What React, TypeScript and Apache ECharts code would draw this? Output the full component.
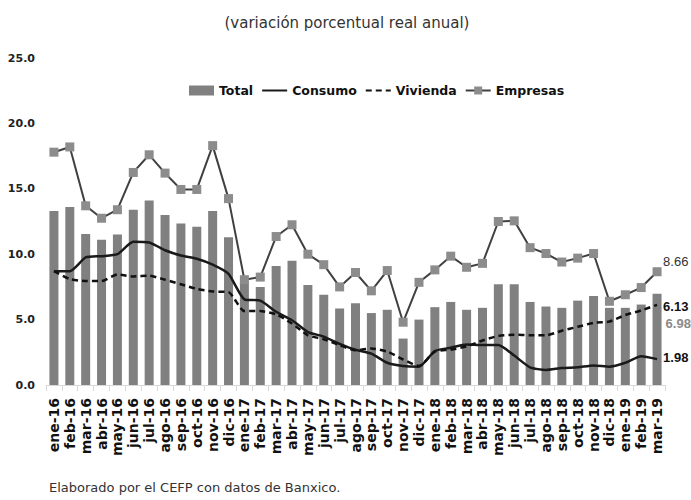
import React, { useEffect, useRef } from "react";
import * as echarts from "echarts";

const categories = [
  "ene-16","feb-16","mar-16","abr-16","may-16","jun-16","jul-16","ago-16","sep-16","oct-16","nov-16","dic-16",
  "ene-17","feb-17","mar-17","abr-17","may-17","jun-17","jul-17","ago-17","sep-17","oct-17","nov-17","dic-17",
  "ene-18","feb-18","mar-18","abr-18","may-18","jun-18","jul-18","ago-18","sep-18","oct-18","nov-18","dic-18",
  "ene-19","feb-19","mar-19",
];

const total = [
  13.3, 13.6, 11.55, 11.1, 11.5, 13.4, 14.1, 13.0, 12.35, 12.1, 13.3, 11.3,
  7.9, 7.5, 9.1, 9.5, 7.65, 6.9, 5.85, 6.25, 5.5, 5.75, 3.55, 5.0,
  5.95, 6.35, 5.75, 5.9, 7.7, 7.7, 6.35, 6.0, 5.9, 6.45, 6.8, 5.9,
  5.9, 6.15, 6.98,
];

const consumo = [
  8.7, 8.7, 9.75, 9.85, 10.0, 10.95, 10.9, 10.3, 9.9, 9.65, 9.2, 8.5,
  6.55, 6.45, 5.6, 4.95, 4.05, 3.7, 3.15, 2.7, 2.4, 1.7, 1.45, 1.4,
  2.6, 2.85, 3.1, 3.05, 3.05, 2.25, 1.35, 1.15, 1.3, 1.35, 1.5, 1.4,
  1.7, 2.2, 1.98,
];

const vivienda = [
  8.7, 8.1, 7.95, 7.95, 8.45, 8.3, 8.35, 8.05, 7.7, 7.35, 7.15, 7.1,
  5.65, 5.65, 5.4, 4.7, 3.8, 3.5, 3.05, 2.65, 2.8, 2.55, 1.95, 1.45,
  2.55, 2.7, 2.95, 3.4, 3.75, 3.85, 3.8, 3.8, 4.15, 4.45, 4.75, 4.85,
  5.35, 5.7, 6.13,
];

const empresas = [
  17.8, 18.2, 13.7, 12.75, 13.4, 16.25, 17.6, 16.2, 14.95, 14.95, 18.3, 14.25,
  8.05, 8.25, 11.35, 12.25, 10.0, 9.2, 7.5, 8.6, 7.2, 8.75, 4.8, 7.85,
  8.8, 9.85, 9.0, 9.3, 12.5, 12.55, 10.5, 10.05, 9.4, 9.7, 10.05, 6.4,
  6.9, 7.45, 8.66,
];

const yTicks = { min: 0, max: 25, interval: 5 };

const FONT = "'DejaVu Sans', sans-serif";
const NARROW = "'Liberation Sans', Arial, sans-serif";

export default function App() {
  const ref = useRef<HTMLDivElement>(null);

  useEffect(() => {
    if (!ref.current) return;
    const chart = echarts.init(ref.current, null, { renderer: "svg" });
    const last = categories.length - 1;
    const hiddenSymbol = { opacity: 0 };

    chart.setOption({
      animation: false,
      backgroundColor: "#ffffff",
      textStyle: { fontFamily: FONT },
      title: [
        {
          text: "(variación porcentual real anual)",
          left: 342,
          textAlign: "center",
          top: 10,
          textStyle: { fontFamily: FONT, fontSize: 15, fontWeight: "normal", color: "#333" },
        },
        {
          text: "Elaborado por el CEFP con datos de Banxico.",
          left: 44,
          top: 476,
          textStyle: { fontFamily: FONT, fontSize: 13, fontWeight: "normal", color: "#333" },
        },
      ],
      legend: {
        top: 79,
        left: 184,
        itemWidth: 25,
        itemHeight: 10,
        itemGap: 8,
        textStyle: { fontFamily: FONT, fontSize: 12.5, fontWeight: "bold", color: "#111" },
        data: [
          { name: "Total", icon: "rect", itemWidth: 22 },
          { name: "Consumo", itemStyle: hiddenSymbol },
          { name: "Vivienda", itemStyle: hiddenSymbol },
          { name: "Empresas" },
        ],
      },
      grid: { left: 46, right: 26, top: 58, bottom: 115, containLabel: false },
      xAxis: {
        type: "category",
        data: categories,
        axisLine: { show: true, lineStyle: { color: "#d9d9d9", width: 1 } },
        axisTick: { show: true, length: 6, lineStyle: { color: "#d9d9d9" } },
        axisLabel: {
          rotate: 90,
          interval: 0,
          fontFamily: FONT,
          fontSize: 14,
          fontWeight: "bold",
          color: "#111",
          margin: 13,
        },
      },
      yAxis: {
        type: "value",
        min: yTicks.min,
        max: yTicks.max,
        interval: yTicks.interval,
        axisLine: { show: false },
        axisTick: { show: false },
        splitLine: { show: false },
        axisLabel: {
          fontFamily: FONT,
          fontSize: 11,
          fontWeight: "bold",
          color: "#222",
          margin: 11,
          formatter: (v: number) => v.toFixed(1),
        },
      },
      series: [
        {
          name: "Total",
          type: "bar",
          barWidth: 9,
          itemStyle: { color: "#808080" },
          data: total.map((v, i) =>
            i === last
              ? {
                  value: v,
                  label: {
                    show: true,
                    position: "right",
                    distance: 4,
                    offset: [0, -16],
                    formatter: (p: any) => Number(p.value).toFixed(2),
                    fontFamily: NARROW,
                    fontSize: 13,
                    fontWeight: "bold",
                    color: "#8a8a8a",
                  },
                }
              : v
          ),
          z: 1,
        },
        {
          name: "Consumo",
          type: "line",
          data: consumo,
          symbol: "none",
          smooth: 0.2,
          lineStyle: { color: "#1a1a1a", width: 2.5 },
          itemStyle: { color: "#1a1a1a" },
          endLabel: {
            show: true,
            distance: 6,
            formatter: (p: any) => Number(p.value).toFixed(2),
            fontFamily: NARROW,
            fontSize: 13,
            fontWeight: "bold",
            color: "#111",
            offset: [0, -2],
          },
          z: 3,
        },
        {
          name: "Vivienda",
          type: "line",
          data: vivienda,
          symbol: "none",
          smooth: 0.2,
          lineStyle: { color: "#111", width: 2.5, type: [6, 4] },
          itemStyle: { color: "#111" },
          endLabel: {
            show: true,
            distance: 6,
            formatter: (p: any) => Number(p.value).toFixed(2),
            fontFamily: NARROW,
            fontSize: 13,
            fontWeight: "bold",
            color: "#111",
            offset: [0, 2],
          },
          z: 3,
        },
        {
          name: "Empresas",
          type: "line",
          data: empresas,
          symbol: "rect",
          symbolSize: 9,
          lineStyle: { color: "#404040", width: 2 },
          itemStyle: { color: "#8c8c8c" },
          endLabel: {
            show: true,
            distance: 6,
            formatter: (p: any) => Number(p.value).toFixed(2),
            fontFamily: NARROW,
            fontSize: 13,
            fontWeight: "normal",
            color: "#333",
            offset: [0, -10],
          },
          z: 4,
        },
      ],
    });

    return () => chart.dispose();
  }, []);

  return <div ref={ref} style={{ width: 691, height: 500, position: "absolute", left: 0, top: 0 }} />;
}
